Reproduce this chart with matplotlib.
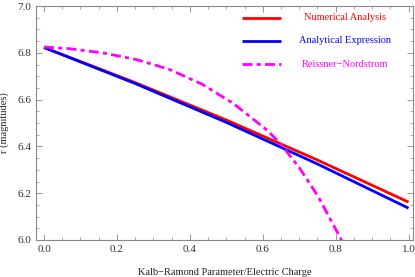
import numpy as np
import matplotlib
matplotlib.use("Agg")
import matplotlib.pyplot as plt
from matplotlib.ticker import MultipleLocator, FormatStrFormatter

# Data
x_num = [0.0, 0.25, 0.5, 0.75, 1.0]
r_num = [6.823, 6.673, 6.513, 6.342, 6.162]

x_ana = [0.0, 0.25, 0.5, 0.75, 1.0]
r_ana = [6.823, 6.669, 6.503, 6.325, 6.136]

x_rn = [0.0, 0.069, 0.161, 0.252, 0.343, 0.435, 0.52, 0.61, 0.647, 0.70, 0.752, 0.816, 0.83]
r_rn = [6.825, 6.818, 6.800, 6.772, 6.730, 6.665, 6.583, 6.472, 6.415, 6.310, 6.186, 6.0, 5.955]

labels = ["Numerical Analysis", "Analytical Expression", "Reissner\u2212Nordstrom"]
colors = ["#ff0000", "#0000ff", "#ff00ff"]

plt.rcParams['font.family'] = ['Liberation Serif', 'DejaVu Serif']

fig = plt.figure(figsize=(4.15, 2.77), dpi=100)
ax = fig.add_axes([0.0867, 0.1336, 0.9083, 0.8444])

DASH = (3.6, 1.5, 1.5, 1.5)
ax.plot(x_num, r_num, color=colors[0], lw=2.0, solid_capstyle='butt')
ax.plot(x_ana, r_ana, color=colors[1], lw=2.0, solid_capstyle='butt')
ax.plot(x_rn, r_rn, color=colors[2], lw=2.0, dashes=DASH)

ax.set_xlim(-0.022, 1.012)
ax.set_ylim(6.0, 7.0)

ax.xaxis.set_major_locator(MultipleLocator(0.2))
ax.xaxis.set_minor_locator(MultipleLocator(0.05))
ax.yaxis.set_major_locator(MultipleLocator(0.2))
ax.yaxis.set_minor_locator(MultipleLocator(0.05))
ax.xaxis.set_major_formatter(FormatStrFormatter('%.1f'))
ax.yaxis.set_major_formatter(FormatStrFormatter('%.1f'))

ax.tick_params(which='both', direction='in', top=True, right=True, color='#888888',
               labelsize=8, labelcolor='#333333')
ax.tick_params(which='major', length=4, width=0.6)
ax.tick_params(which='minor', length=2, width=0.5)
for s in ax.spines.values():
    s.set_color('#888888')
    s.set_linewidth(0.8)

ax.set_xlabel("Kalb\u2212Ramond Parameter/Electric Charge", fontsize=7.5, color='#222222', labelpad=10)
ax.set_ylabel("r (magnitudes)", fontsize=7.5, color='#222222', labelpad=6)

# Legend
leg_y = [6.951, 6.851, 6.751]
for i, (lab, c) in enumerate(zip(labels, colors)):
    yy = leg_y[i]
    if i < 2:
        ax.plot([0.544, 0.651], [yy, yy], color=c, lw=2.0, solid_capstyle='butt')
    else:
        ax.plot([0.544, 0.651], [yy, yy], color=c, lw=2.0, dashes=DASH)
    ax.text(0.827, yy, lab, color=c, fontsize=7.5, ha='center', va='center')

fig.savefig("out.png", dpi=100)
